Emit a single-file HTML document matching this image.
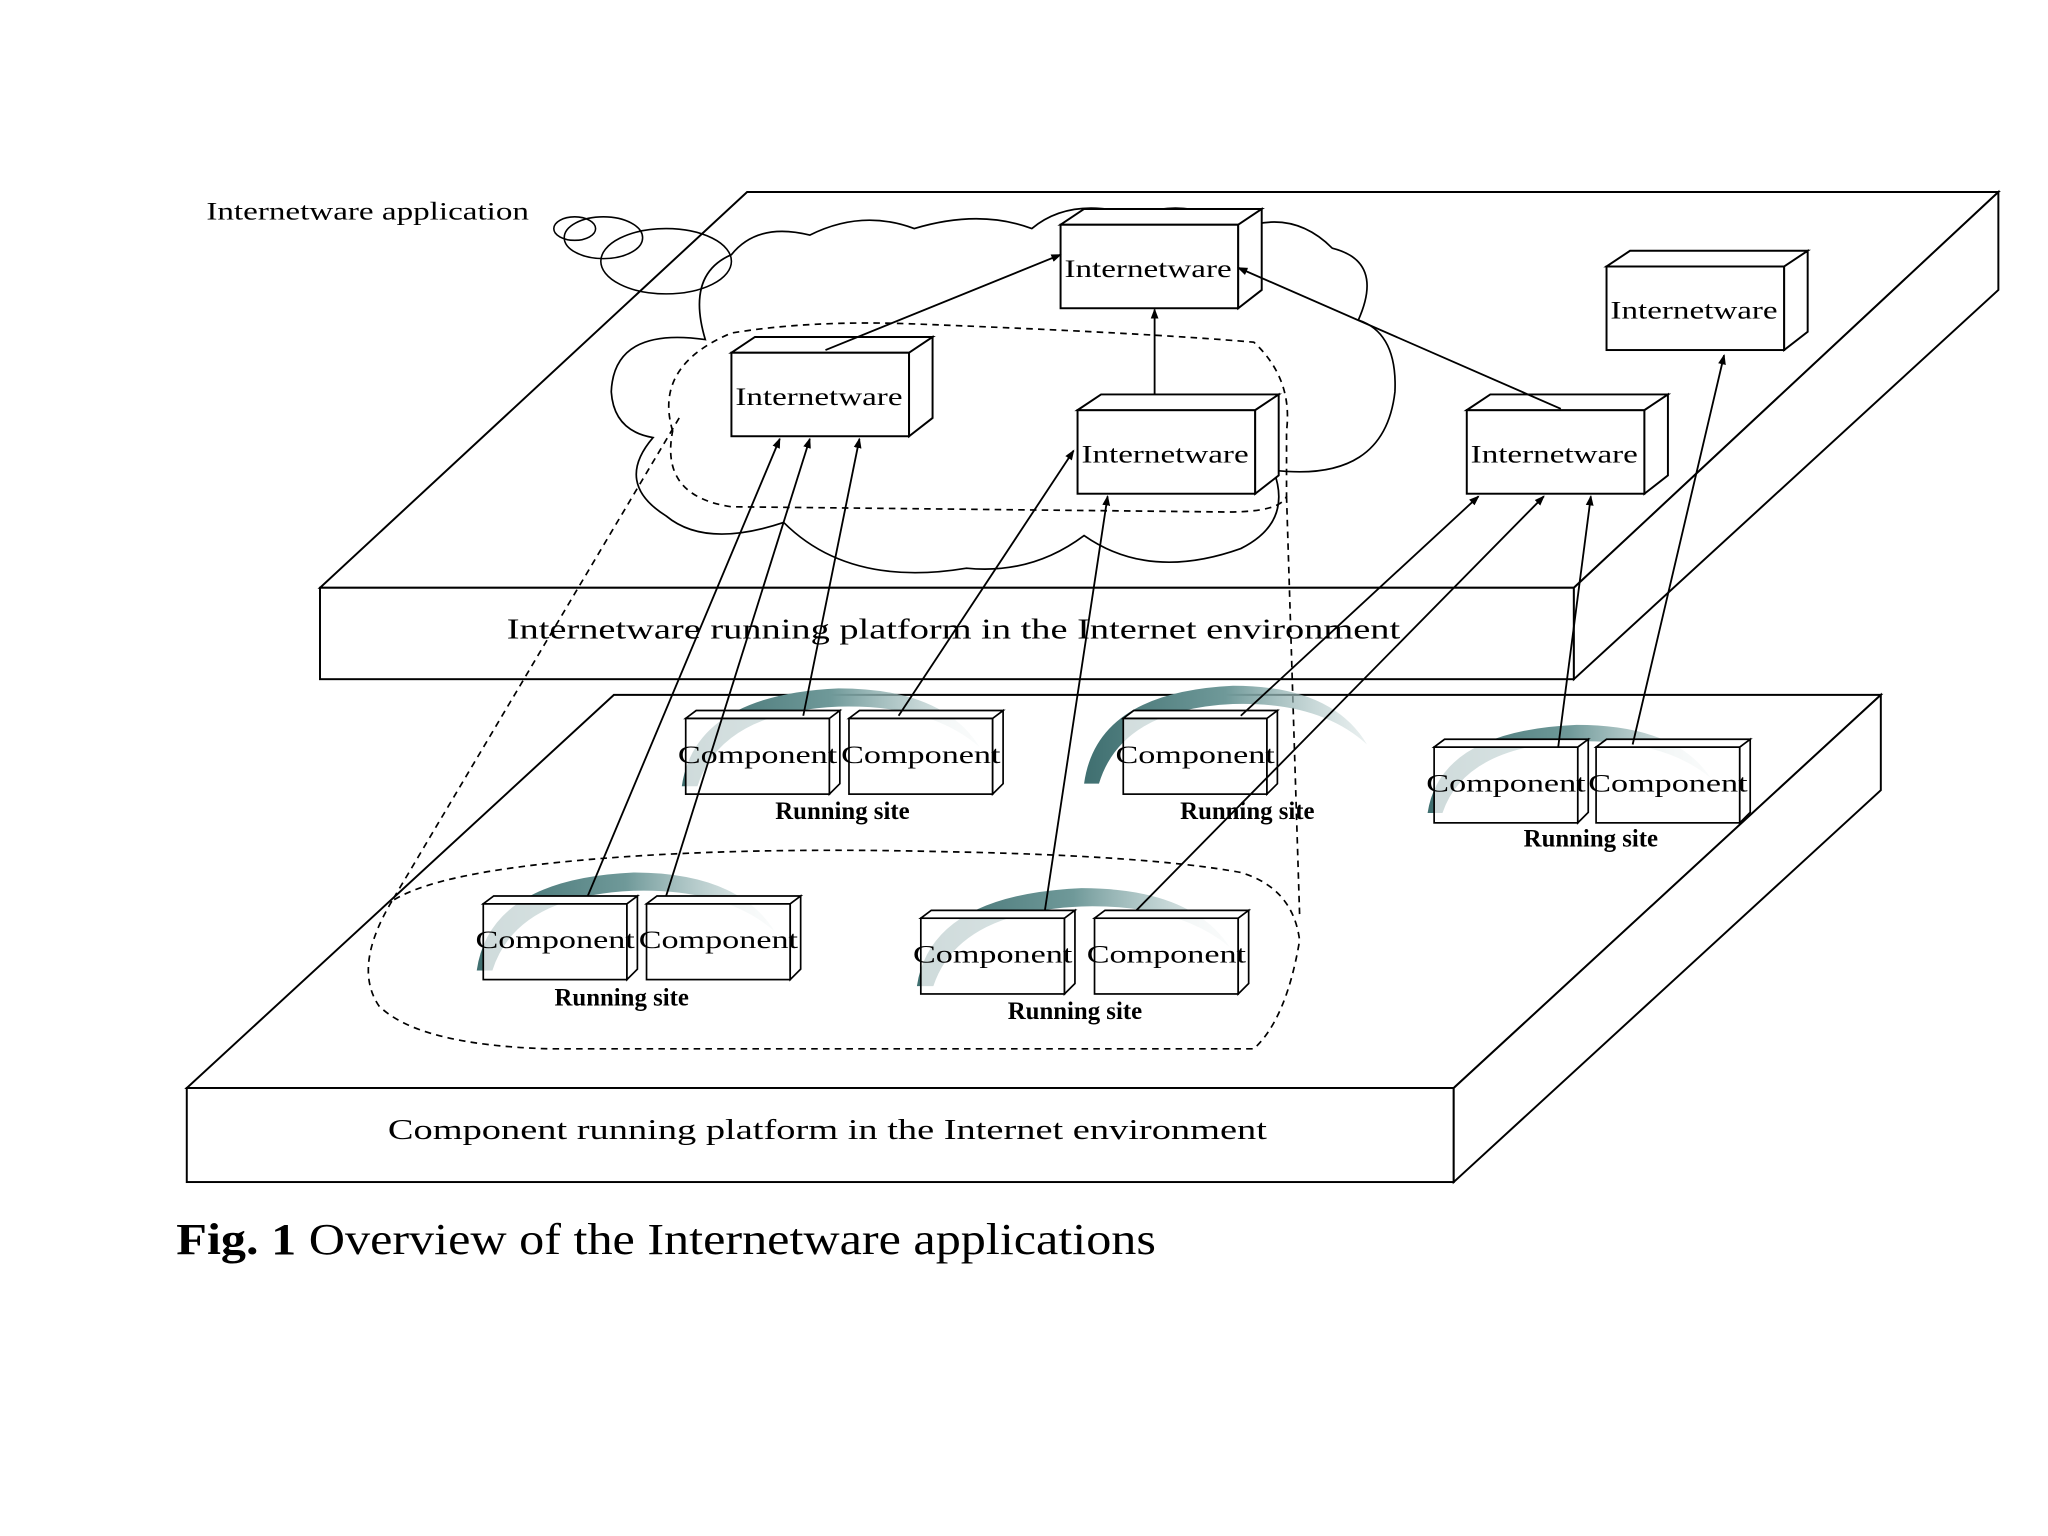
<!DOCTYPE html>
<html><head><style>html,body{margin:0;padding:0;background:#fff;}svg{display:block}</style></head>
<body>
<svg width="2048" height="1536" viewBox="0 0 1568 1176" xmlns="http://www.w3.org/2000/svg" font-family="Liberation Serif, serif">
<defs>
<marker id="a" markerWidth="8" markerHeight="8" refX="7" refY="4" orient="auto" markerUnits="userSpaceOnUse"><path d="M0,1 L8,4 L0,7 z" fill="#000"/></marker>
<linearGradient id="t" x1="0" y1="0" x2="1" y2="0"><stop offset="0" stop-color="#3f6f70"/><stop offset="0.5" stop-color="#6f9999"/><stop offset="1" stop-color="#c8d8d8" stop-opacity="0.4"/></linearGradient>
<g id="ib"><rect x="0" y="12" width="136" height="64" fill="#fff" stroke="#000" stroke-width="1.5"/><path d="M0,12 L18,0 L154,0 L136,12 Z M136,12 L154,0 L154,62 L136,76 Z" fill="#fff" stroke="#000" stroke-width="1.5"/><text x="3" y="52" font-size="19" textLength="128" lengthAdjust="spacingAndGlyphs">Internetware</text></g>
<g id="cb"><rect x="0" y="6" width="110" height="58" fill="#fff" fill-opacity="0.75" stroke="#000" stroke-width="1.3"/><path d="M110,6 L118,0 L118,56 L110,64 Z M0,6 L8,0 L118,0 L110,6 Z" fill="#fff" stroke="#000" stroke-width="1.3"/><text x="-6" y="40" font-size="19" textLength="122" lengthAdjust="spacingAndGlyphs">Component</text></g>
<path id="arc" d="M0,75 Q10,5 120,0 Q200,0 228,45 Q190,12 120,14 Q30,18 12,75 Z" fill="url(#t)"/>
</defs>
<g fill="#fff" stroke="#000" stroke-width="1.5">
<polygon points="470,532 1440,532 1113,833 143,833"/>
<rect x="143" y="833" width="970" height="72"/>
<polygon points="1113,833 1440,532 1440,605 1113,905"/>
<polygon points="572,147 1530,147 1205,450 245,450"/>
<rect x="245" y="450" width="960" height="70"/>
<polygon points="1205,450 1530,147 1530,222 1205,520"/>
</g>
<path d="M540,260 Q470,250 468,300 Q470,330 500,335 Q470,370 510,395 Q540,420 600,400 Q650,450 740,435 Q790,440 830,410 Q880,445 950,420 Q990,400 975,360 Q1060,370 1068,300 Q1070,255 1040,245 Q1060,200 1020,190 Q990,160 950,175 Q910,150 870,165 Q820,150 790,175 Q750,160 700,175 Q660,160 620,180 Q580,170 560,195 Q525,210 540,260 Z" fill="#fff" stroke="#000" stroke-width="1.3"/>
<text x="158" y="168" font-size="19" textLength="247" lengthAdjust="spacingAndGlyphs">Internetware application</text>
<g fill="none" stroke="#000" stroke-width="1.2"><ellipse cx="440" cy="175" rx="16" ry="9"/><ellipse cx="462" cy="182" rx="30" ry="16"/><ellipse cx="510" cy="200" rx="50" ry="25"/></g>
<g fill="none" stroke="#000" stroke-width="1.3" stroke-dasharray="5,4">
<path d="M515,330 Q500,280 560,255 Q620,245 700,248 Q880,255 960,262 Q990,290 985,330 L985,380 Q980,392 940,392 L560,388 Q505,380 515,330 Z"/>
<path d="M520,320 L300,690"/>
<path d="M985,380 L995,700"/>
<path d="M300,690 Q270,740 290,770 Q320,800 420,803 L960,803 Q985,780 995,720 Q990,680 950,668 Q880,655 720,652 Q550,648 430,660 Q330,670 300,690"/>
</g>
<use href="#arc" transform="translate(522,527)"/>
<use href="#arc" transform="translate(830,525) scale(0.95,1)"/>
<use href="#arc" transform="translate(1093,555) scale(0.95,0.9)"/>
<use href="#arc" transform="translate(365,668)"/>
<use href="#arc" transform="translate(702,680) scale(1.05,1)"/>
<use href="#cb" x="525" y="544"/><use href="#cb" x="650" y="544"/>
<use href="#cb" x="860" y="544"/>
<use href="#cb" x="1098" y="566"/><use href="#cb" x="1222" y="566"/>
<use href="#cb" x="370" y="686"/><use href="#cb" x="495" y="686"/>
<use href="#cb" x="705" y="697"/><use href="#cb" x="838" y="697"/>
<g font-size="19" font-weight="bold" text-anchor="middle">
<text x="645" y="627">Running site</text><text x="955" y="627">Running site</text>
<text x="1218" y="648">Running site</text><text x="476" y="770">Running site</text>
<text x="823" y="780">Running site</text></g>
<use href="#ib" x="812" y="160"/>
<use href="#ib" x="560" y="258"/>
<use href="#ib" x="825" y="302"/>
<use href="#ib" x="1123" y="302"/>
<use href="#ib" x="1230" y="192"/>
<text x="388" y="489" font-size="22" textLength="684" lengthAdjust="spacingAndGlyphs">Internetware running platform in the Internet environment</text>
<text x="297" y="872" font-size="22" textLength="673" lengthAdjust="spacingAndGlyphs">Component running platform in the Internet environment</text>
<g stroke="#000" stroke-width="1.4" marker-end="url(#a)">
<line x1="632" y1="268" x2="812" y2="195"/>
<line x1="884" y1="302" x2="884" y2="237"/>
<line x1="1195" y1="313" x2="948" y2="205"/>
<line x1="450" y1="686" x2="597" y2="336"/>
<line x1="510" y1="686" x2="620" y2="336"/>
<line x1="615" y1="548" x2="658" y2="336"/>
<line x1="688" y1="548" x2="822" y2="345"/>
<line x1="800" y1="697" x2="848" y2="380"/>
<line x1="950" y1="548" x2="1132" y2="380"/>
<line x1="870" y1="697" x2="1182" y2="380"/>
<line x1="1193" y1="572" x2="1218" y2="380"/>
<line x1="1250" y1="570" x2="1320" y2="272"/>
</g>
<text x="135" y="960" font-size="34" textLength="750" lengthAdjust="spacingAndGlyphs"><tspan font-weight="bold">Fig. 1</tspan> Overview of the Internetware applications</text>
</svg>
</body></html>
